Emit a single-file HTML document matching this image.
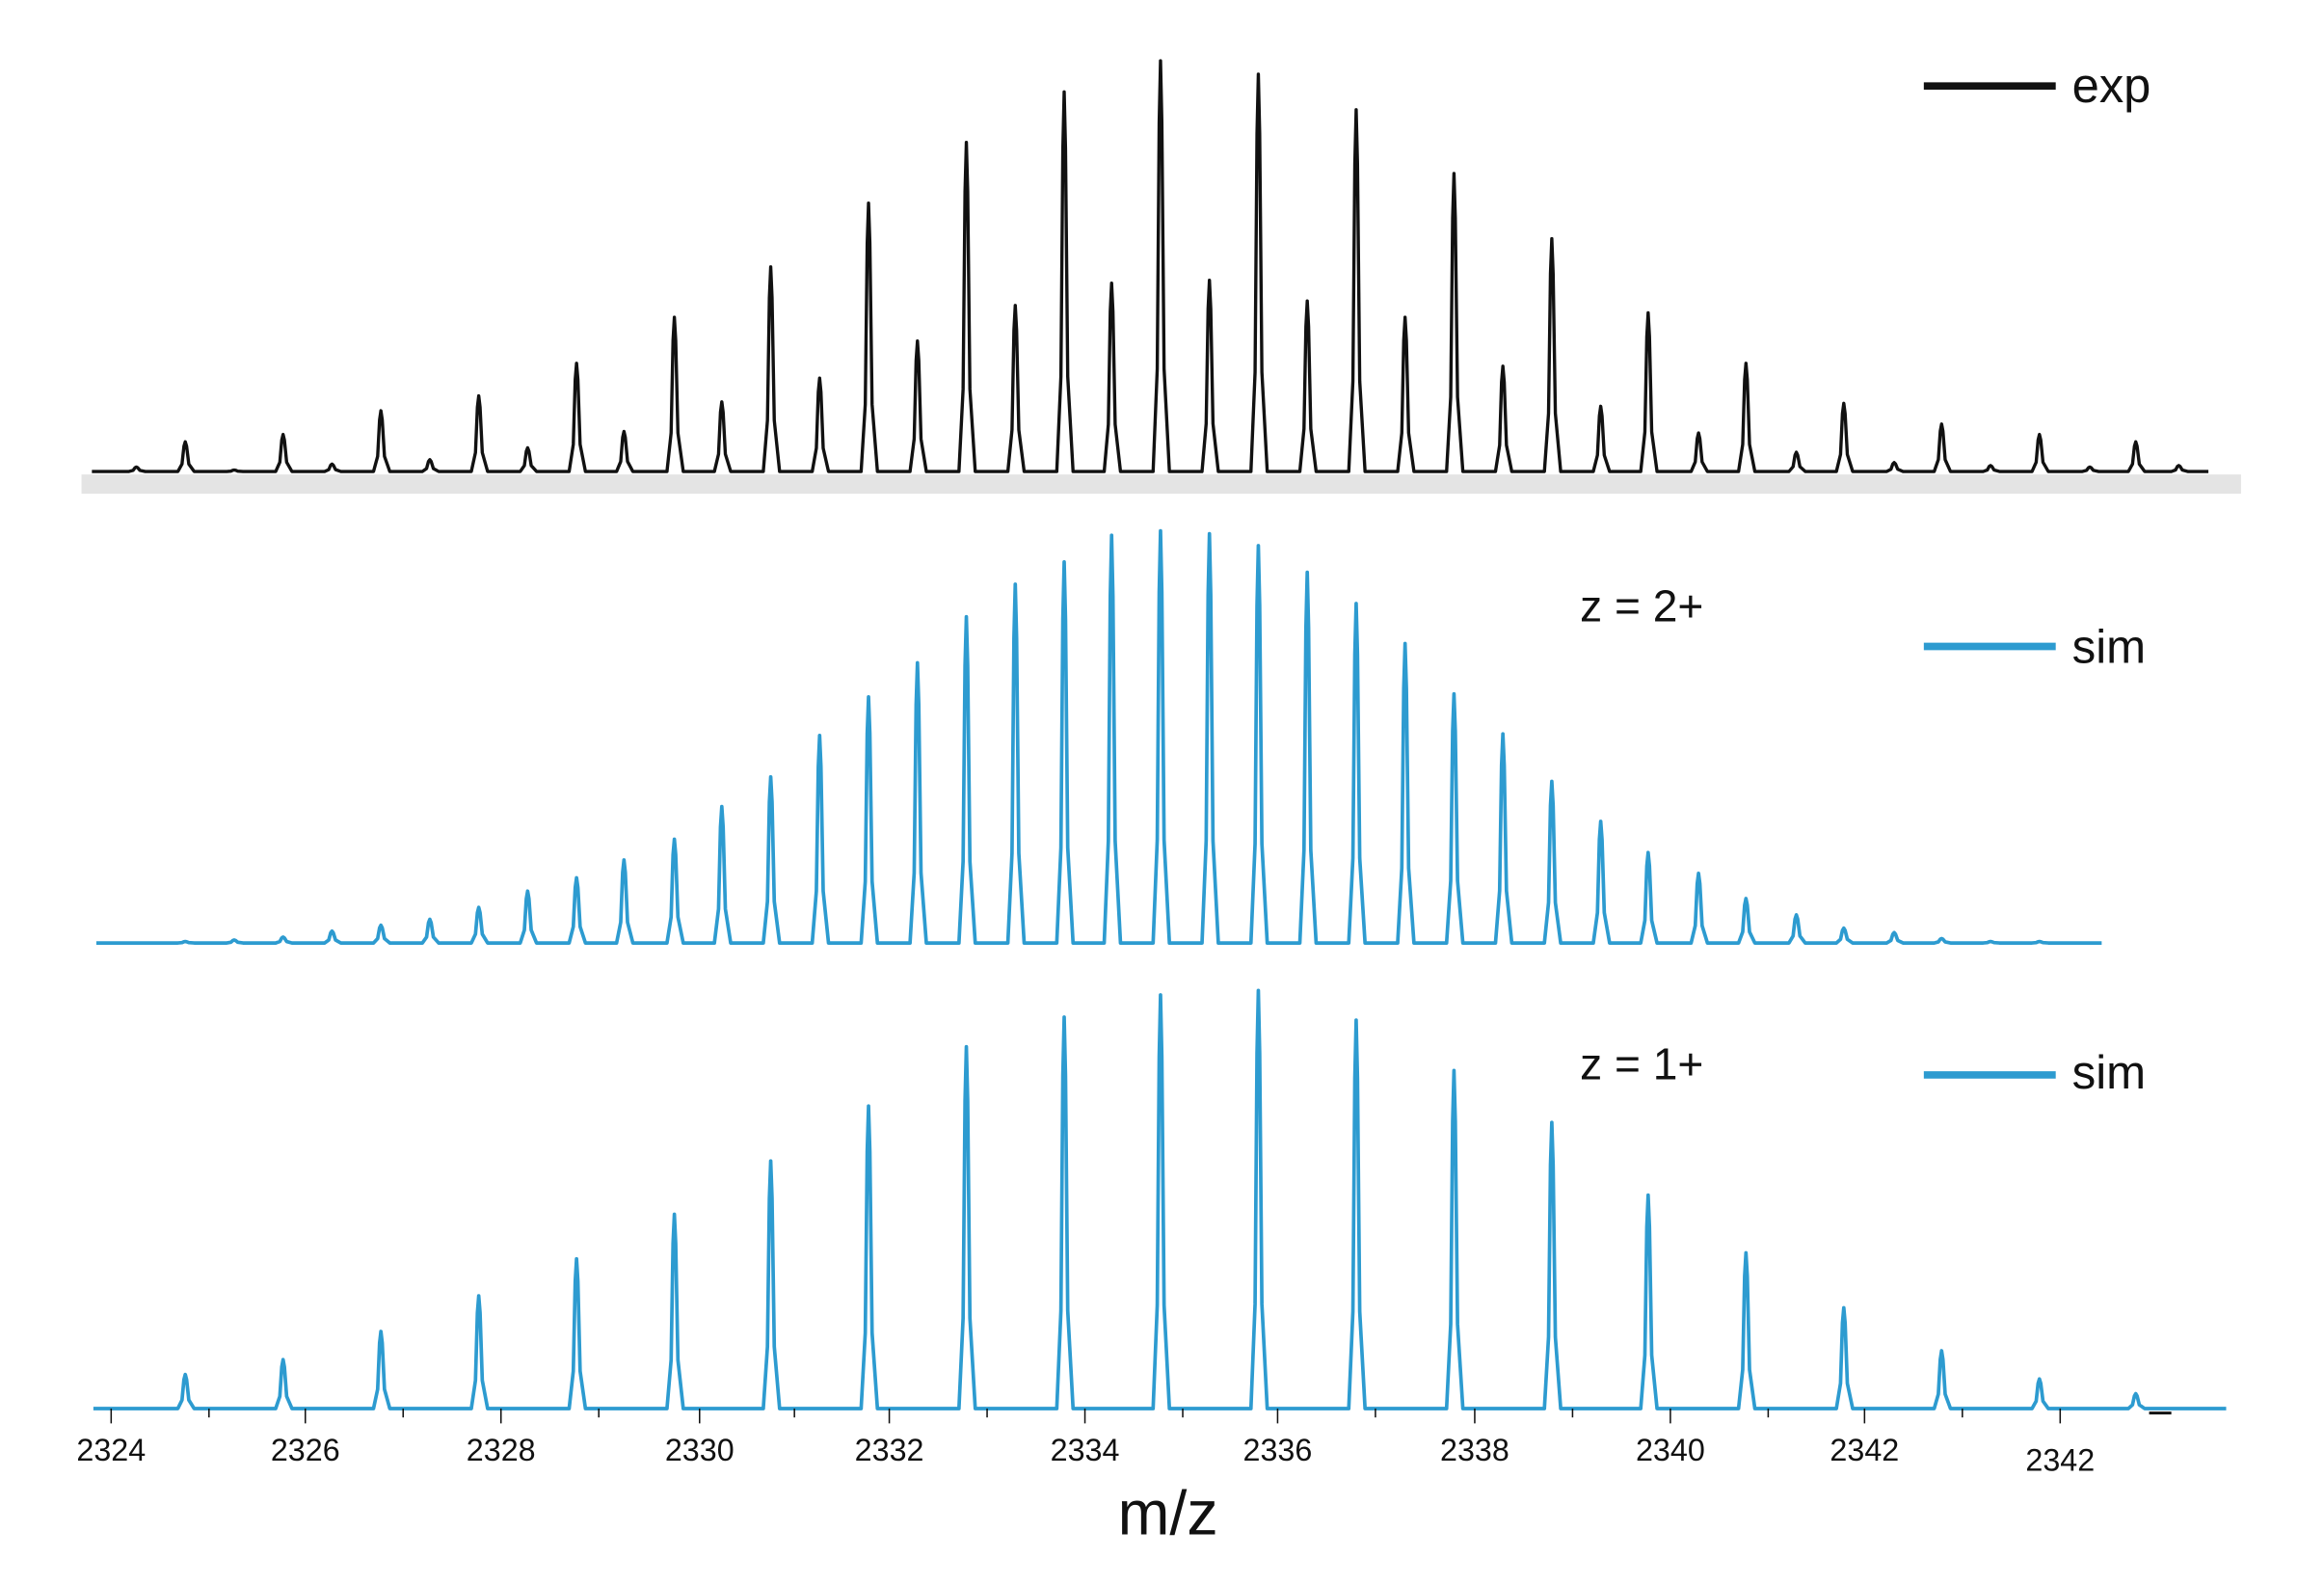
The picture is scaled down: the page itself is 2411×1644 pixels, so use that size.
<!DOCTYPE html>
<html><head><meta charset="utf-8"><style>
html,body{margin:0;padding:0;background:#fff;}
svg{display:block;}
text{font-family:"Liberation Sans",Arial,sans-serif;}
</style></head><body>
<svg id="s" width="2411" height="1644" viewBox="0 0 1568 1069" preserveAspectRatio="none" xmlns="http://www.w3.org/2000/svg">
<rect x="0" y="0" width="1568" height="1069" fill="#fff"/>
<rect x="55" y="320" width="1457" height="13" fill="#e4e4e4"/>
<g id="g"></g>
<line x1="1298" y1="58" x2="1387" y2="58" stroke="#111" stroke-width="5"/>
<text x="1398" y="69" font-size="33" fill="#111">exp</text>
<text x="1066" y="419" font-size="30" fill="#111">z = 2+</text>
<line x1="1298" y1="436" x2="1387" y2="436" stroke="#2d9bd0" stroke-width="5"/>
<text x="1398" y="447" font-size="32" fill="#111">sim</text>
<text x="1066" y="728" font-size="30" fill="#111">z = 1+</text>
<line x1="1298" y1="725" x2="1387" y2="725" stroke="#2d9bd0" stroke-width="5"/>
<text x="1398" y="734" font-size="32" fill="#111">sim</text>
<line x1="1450" y1="953" x2="1465" y2="953" stroke="#111" stroke-width="2"/>
<g font-size="21" fill="#111" text-anchor="middle">
<text x="75" y="985">2324</text><text x="206" y="985">2326</text><text x="338" y="985">2328</text>
<text x="472" y="985">2330</text><text x="600" y="985">2332</text><text x="732" y="985">2334</text>
<text x="862" y="985">2336</text><text x="995" y="985">2338</text><text x="1127" y="985">2340</text>
<text x="1258" y="985">2342</text><text x="1390" y="992">2342</text>
</g>
<text x="788" y="1035" font-size="42" fill="#111" text-anchor="middle">m/z</text>
</svg>
<script>
var g=document.getElementById('g'),NS='http://www.w3.org/2000/svg';
function series(base,x0,x1,pk,col,sw){
 pk.sort(function(a,b){return a[0]-b[0]});
 var d='M'+x0+' '+base;
 pk.forEach(function(p){var x=p[0],t=p[1],h=base-t;
  d+=' L'+(x-5)+' '+base+' L'+(x-2.2)+' '+(base-h*0.25)+' L'+(x-0.9)+' '+(base-h*0.85)+' L'+x+' '+t+' L'+(x+0.9)+' '+(base-h*0.85)+' L'+(x+2.4)+' '+(base-h*0.25)+' L'+(x+6)+' '+base;});
 d+=' L'+x1+' '+base;
 var e=document.createElementNS(NS,'path');e.setAttribute('d',d);e.setAttribute('fill','none');
 e.setAttribute('stroke',col);e.setAttribute('stroke-width',sw);e.setAttribute('stroke-linejoin','round');g.appendChild(e);
}
series(318,62,1490,[[125,298],[191,293],[257,277],[323,267],[389,245],[455,214],[520,180],[586,137],[652,96],[718,62],[783,41],[849,50],[915,74],[981,117],[1047,161],[1112,211],[1178,245],[1244,272],[1310,286],[1376,293],[1441,298],
[92,315],[158,317],[224,313],[290,310],[356,302],[421,291],[487,271],[553,255],[619,230],[685,206],[750,191],[816,189],[882,203],[948,214],[1014,247],[1080,274],[1146,292],[1212,305],[1278,312],[1343,314],[1410,315],[1470,314]],'#111',2.2);
series(636,65,1418,[[125,635],[158,634],[191,632],[224,628],[257,624],[290,620],[323,612],[356,601],[389,592],[421,580],[455,566],[487,544],[520,524],[553,496],[586,470],[619,447],[652,416],[685,394],[718,379],[750,361],[783,358],[816,360],[849,368],[882,386],[915,407],[948,434],[981,468],[1014,495],[1047,527],[1080,554],[1112,575],[1146,589],[1178,606],[1212,617],[1244,626],[1278,629],[1310,633],[1343,635],[1376,635]],'#2d9bd0',2.4);
series(950,63,1502,[[125,927],[191,917],[257,898],[323,874],[389,849],[455,819],[520,783],[586,746],[652,706],[718,686],[783,671],[849,668],[915,688],[981,722],[1047,757],[1112,806],[1178,845],[1244,882],[1310,911],[1376,930],[1441,940]],'#2d9bd0',2.4);
[75,141,206,272,338,404,472,536,600,666,732,798,862,928,995,1061,1127,1193,1258,1324,1390].forEach(function(x){
 var l=document.createElementNS(NS,'line');l.setAttribute('x1',x);l.setAttribute('x2',x);l.setAttribute('y1',950);l.setAttribute('y2',(x==75||x==206||x==338||x==472||x==600||x==732||x==862||x==995||x==1127||x==1258||x==1390)?960:956);
 l.setAttribute('stroke','#111');l.setAttribute('stroke-width',1);g.appendChild(l);});
</script>
</body></html>
